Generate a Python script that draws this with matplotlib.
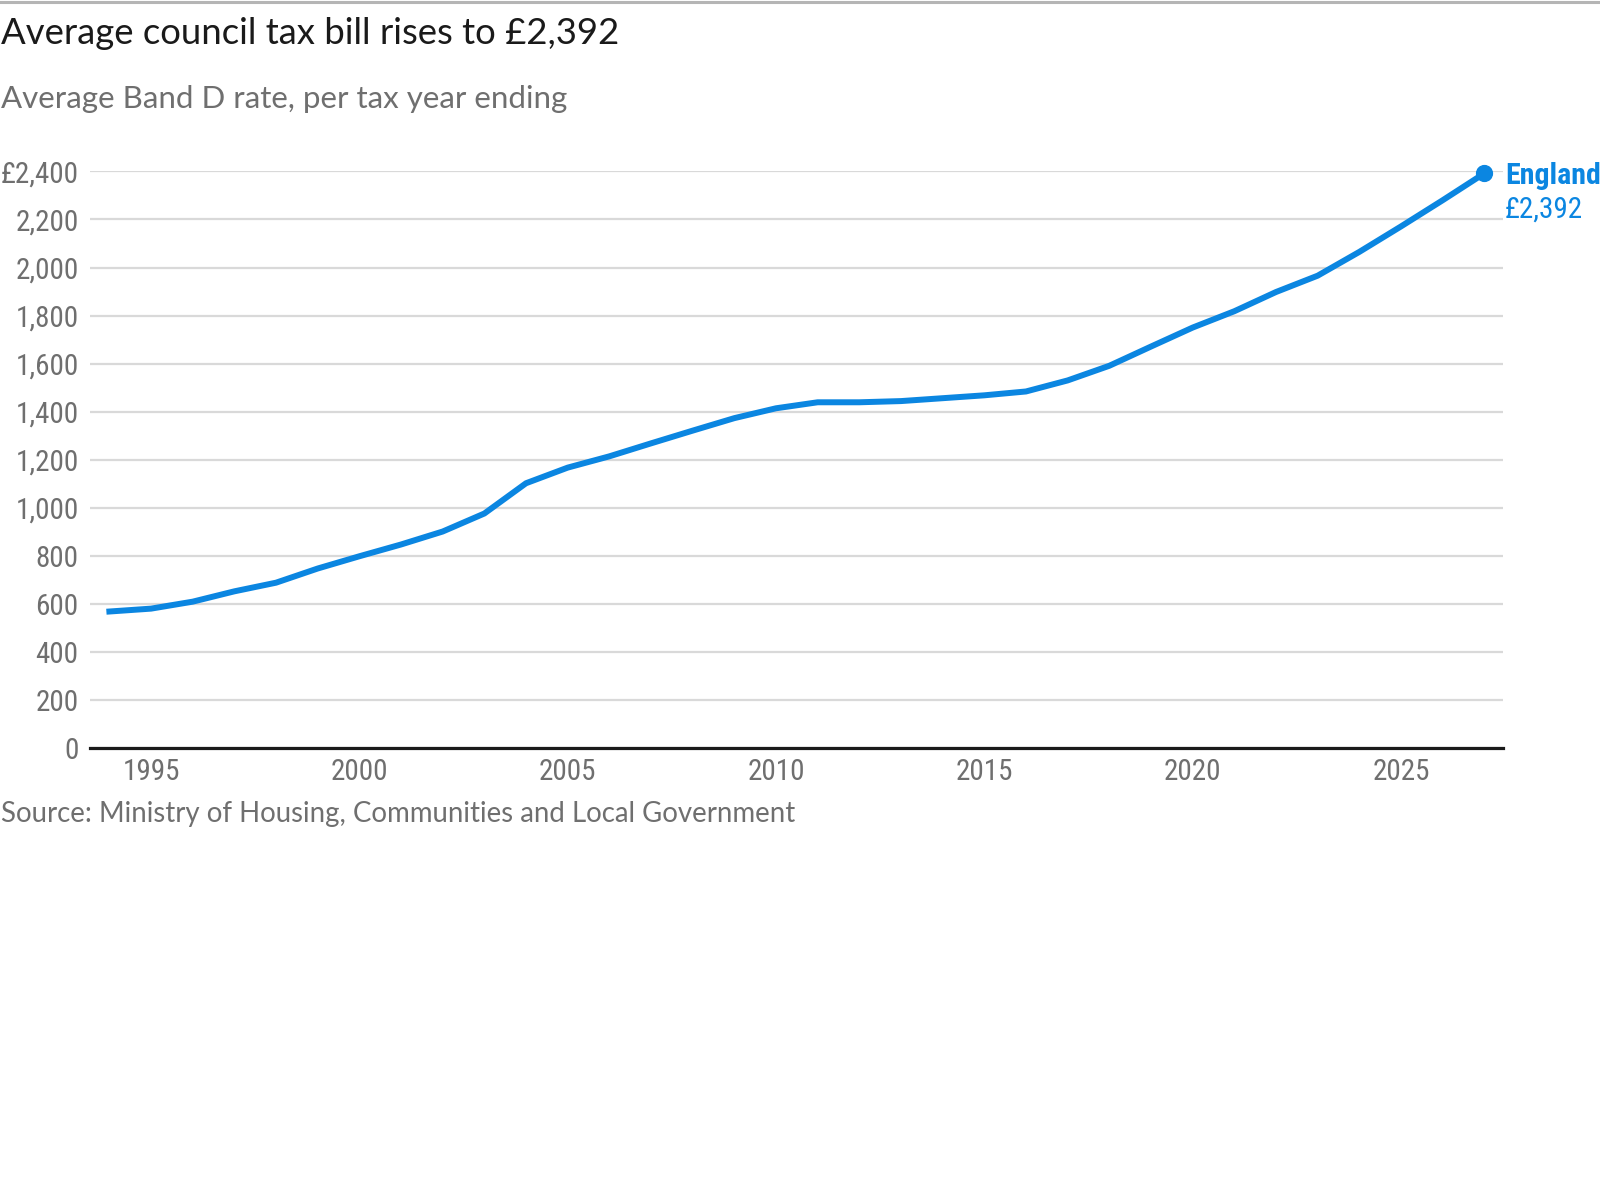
import matplotlib
matplotlib.use("Agg")
import matplotlib.pyplot as plt
from matplotlib.lines import Line2D
from matplotlib.ticker import FuncFormatter

# Average Band D council tax, England, per tax year ending
years = list(range(1994, 2028))
band_d = [568, 580, 609, 652, 688, 747, 798, 847, 901, 976,
          1102, 1167, 1214, 1268, 1321, 1373, 1414, 1439, 1439, 1444,
          1456, 1468, 1484, 1530, 1591, 1671, 1750, 1818, 1898, 1966,
          2065, 2171, 2280, 2392]
y_ticks = list(range(0, 2401, 200))
x_ticks = [1995, 2000, 2005, 2010, 2015, 2020, 2025]

title = "Average council tax bill rises to £2,392"
subtitle = "Average Band D rate, per tax year ending"
source = "Source: Ministry of Housing, Communities and Local Government"
series_name = "England"

BLUE = "#0b86e1"
GREY_TEXT = "#6f6f6f"
GRID = "#d9d9d9"
TEXT_FONT = ["Lato", "DejaVu Sans"]
TICK_FONT = ["Roboto Condensed", "Liberation Sans Narrow", "Open Sans Condensed", "Roboto", "DejaVu Sans"]

# layout measured on a 1568 x 1176 view of the page
W, H = 1568, 1176
fig = plt.figure(figsize=(16, 12), dpi=100)
ax = fig.add_axes([88 / W, 1 - 733 / H, (1473 - 88) / W, (733 - 168) / H])

# top rule
fig.add_artist(Line2D([0, 1], [1 - 1.5 / H, 1 - 1.5 / H], color="#b5b5b5", linewidth=2.2))

fig.text(0.5 / W, 1 - 33 / H, title, fontsize=26.3, color="#1a1a1a", family=TEXT_FONT, va="center")
fig.text(0.5 / W, 1 - 97 / H, subtitle, fontsize=22.5, color=GREY_TEXT, family=TEXT_FONT, va="center")
fig.text(0.5 / W, 1 - 798 / H, source, fontsize=19.9, color=GREY_TEXT, family=TEXT_FONT, va="center")

ax.plot(years, band_d, color=BLUE, linewidth=4.3, solid_joinstyle="round", clip_on=False, zorder=3)
ax.scatter([years[-1]], [band_d[-1]], s=130, color=BLUE, clip_on=False, zorder=4)

ax.set_xlim(1993.53, 2027.45)
ax.set_ylim(0, 2400)
ax.set_yticks(y_ticks)
ax.set_xticks(x_ticks)
ax.yaxis.set_major_formatter(FuncFormatter(lambda v, p: f"£{v:,.0f}" if v == y_ticks[-1] else f"{v:,.0f}"))

for s in ["top", "right", "left"]:
    ax.spines[s].set_visible(False)
ax.spines["bottom"].set_color("#1a1a1a")
ax.spines["bottom"].set_linewidth(2.3)
ax.spines["bottom"].set_zorder(5)

ax.grid(axis="y", color=GRID, linewidth=1.6)
ax.set_axisbelow(True)
ax.tick_params(axis="both", length=0, labelsize=21, labelcolor=GREY_TEXT)
ax.tick_params(axis="y", pad=8)
ax.tick_params(axis="x", pad=7)
for lab in ax.get_xticklabels() + ax.get_yticklabels():
    lab.set_family(TICK_FONT)

# end label
ax.annotate(series_name, xy=(years[-1], band_d[-1]), xytext=(15, -2), textcoords="offset points",
            color=BLUE, fontsize=21.5, fontweight="bold", family=TICK_FONT, va="center",
            annotation_clip=False)
ax.annotate(f"£{band_d[-1]:,}", xy=(years[-1], band_d[-1]), xytext=(15, -26), textcoords="offset points",
            color=BLUE, fontsize=21, family=TICK_FONT, va="center", annotation_clip=False)

fig.savefig("out.png", dpi=100, facecolor="white")
